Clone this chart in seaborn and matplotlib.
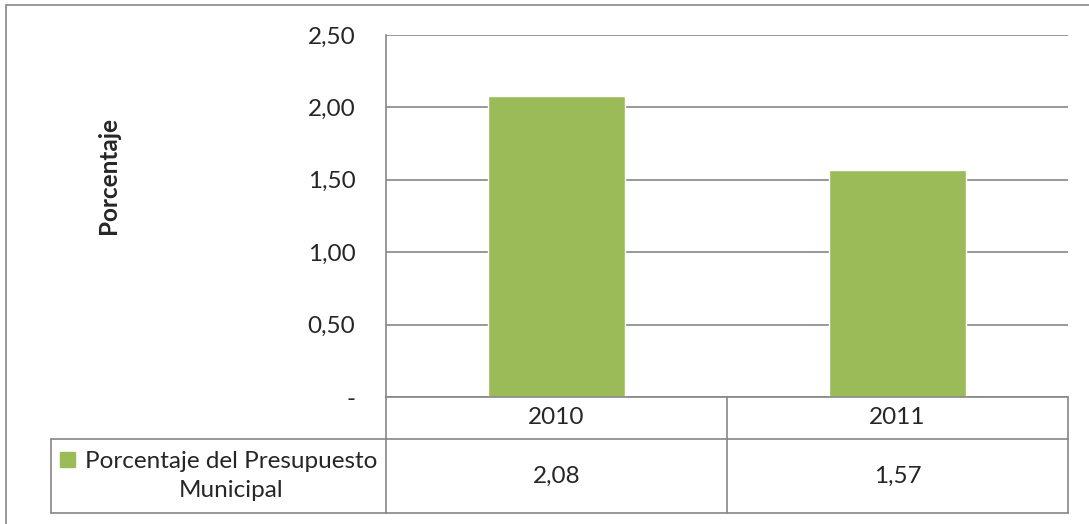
import matplotlib
matplotlib.use("Agg")
import matplotlib.pyplot as plt
import seaborn as sns
import pandas as pd
from matplotlib.patches import Rectangle

# data
years = ["2010", "2011"]
values = [2.08, 1.57]
series_name = "Porcentaje del Presupuesto\nMunicipal"
y_ticks = [0, 0.5, 1.0, 1.5, 2.0, 2.5]
y_label = "Porcentaje"

GREEN = "#9BBB59"
GRID = "#868686"
W, H = 1089, 524

sns.set_theme(style="white")
plt.rcParams["font.family"] = ["Lato", "DejaVu Sans"]
FS = 17.5

df = pd.DataFrame({"year": years, "value": values})

fig = plt.figure(figsize=(W / 100, H / 100), dpi=100)

# pixel helpers (top-left origin)
def fx(px):
    return px / W

def fy(py):
    return 1 - py / H

x0, x1 = 386, 1068
top, base, bottom = 35, 397, 513
ax = fig.add_axes([fx(x0), fy(base), fx(x1 - x0), (base - top) / H])
sns.barplot(data=df, x="year", y="value", color=GREEN, width=0.4,
            saturation=1, ax=ax)
ax.set_xlim(-0.5, 1.5)
ax.set_ylim(0, 2.5)
ax.set_yticks(y_ticks)
ax.set_yticklabels(["-" if v == 0 else f"{v:.2f}".replace(".", ",") for v in y_ticks],
                   fontsize=FS)
ax.tick_params(axis="y", length=0, pad=22)
ax.set_xticks([])
ax.set_xlabel("")
ax.set_ylabel("")
ax.set_axisbelow(True)
ax.yaxis.grid(True, color=GRID, lw=1.2)
for s in ["top", "right", "bottom"]:
    ax.spines[s].set_visible(False)
ax.spines["left"].set_color(GRID)
ax.spines["left"].set_linewidth(1.2)

fig.text(fx(109), fy(176), y_label, rotation=90, ha="center", va="center",
         fontsize=FS, fontweight="bold")

# data table below the plot
tab = fig.add_axes([fx(x0), fy(bottom), fx(x1 - x0), (bottom - base) / H], sharex=ax)
tab.set_ylim(bottom - base, 0)
tab.axis("off")
row = 439 - base
leg_left = (51 - x0) / ((x1 - x0) / len(years)) - 0.5
lk = dict(color=GRID, lw=1.2, clip_on=False)
tab.plot([-0.5, 1.5], [0, 0], **lk)
tab.plot([leg_left, 1.5], [row, row], **lk)
tab.plot([leg_left, 1.5], [bottom - base, bottom - base], **lk)
tab.plot([leg_left, leg_left], [row, bottom - base], **lk)
for xv in [-0.5, 0.5, 1.5]:
    tab.plot([xv, xv], [0, bottom - base], **lk)
for i, (yr, v) in enumerate(zip(years, values)):
    tab.text(i, row / 2, yr, ha="center", va="center", fontsize=FS)
    tab.text(i, (row + bottom - base) / 2, f"{v:.2f}".replace(".", ","),
             ha="center", va="center", fontsize=FS)

# legend key in the table
fig.patches.append(Rectangle((fx(60), fy(467)), fx(15), 15 / H, color=GREEN,
                             transform=fig.transFigure))
fig.text(fx(231), fy(476), series_name, ha="center", va="center",
         multialignment="center", fontsize=FS, linespacing=1.45)

# outer chart border
fig.patches.append(Rectangle((fx(6), fy(H + 10)), 1.2, (H + 5) / H, fill=False,
                             edgecolor=GRID, lw=1.2, transform=fig.transFigure))

fig.savefig("out.png", dpi=100, facecolor="white")
